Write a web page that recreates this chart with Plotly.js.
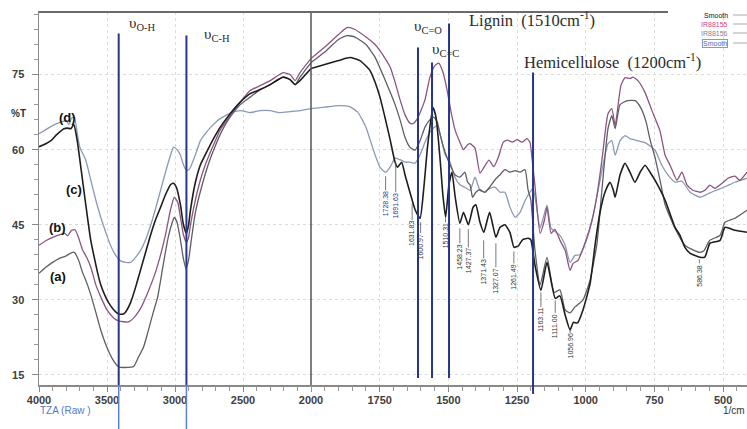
<!DOCTYPE html>
<html><head><meta charset="utf-8">
<script src="https://cdn.plot.ly/plotly-3.0.1.min.js"></script>
<style>html,body{margin:0;padding:0;background:#fff}#chart{width:747px;height:429px}</style>
</head><body><div id="chart"></div>
<script>
// ---- Data (wavenumber cm-1, %T) ----
const specD = [[4000,63.2],[3950,64],[3900,64.8],[3850,65.4],[3800,65.8],[3780,65],[3760,66.3],[3740,66.5],[3720,63.5],[3700,60.5],[3656,57.9],[3620,54],[3582,49.9],[3546,46.5],[3509,43.5],[3473,40.8],[3436,38.9],[3400,37.8],[3363,37.5],[3326,37.5],[3290,38.5],[3253,39.9],[3216,42],[3179,44.9],[3143,48.2],[3106,51.9],[3070,55.5],[3033,58.9],[3011,60.5],[2985,60],[2960,58.9],[2938,57],[2916,55.9],[2900,56],[2886,56.5],[2850,59],[2813,61.8],[2777,63.2],[2740,64.4],[2700,65.5],[2667,66.2],[2600,67.2],[2520,67.8],[2447,67.4],[2374,67.8],[2300,67.8],[2230,67.4],[2154,67.6],[2081,67.8],[2000,68.2],[1950,68.5],[1900,68.8],[1860,68.6],[1830,67.5],[1800,64.5],[1785,62],[1767,59],[1749,56.5],[1728,55.5],[1712,56.5],[1694,58.3],[1676,58],[1658,57.5],[1640,57.5],[1621,57.3],[1603,59],[1585,61.5],[1567,63.5],[1553,64.4],[1540,64.8],[1525,62],[1512,59],[1494,57.5],[1476,54.5],[1458,53],[1440,52.5],[1421,51.9],[1403,54.5],[1385,51.9],[1370,51.5],[1348,52.3],[1330,52.5],[1312,51.5],[1294,51.5],[1276,48.5],[1257,46.5],[1239,47.5],[1221,49.8],[1203,51.5],[1192,52.3],[1180,49],[1166,44.3],[1141,48.9],[1126,44.3],[1094,42.9],[1075,40.9],[1057,37.5],[1039,38.9],[1021,39],[995,42.3],[973,46.9],[955,51.9],[937,56.9],[919,61.2],[905,61.8],[893,58.9],[875,61.8],[857,62.8],[839,62.2],[812,61.8],[784,61.4],[748,59.9],[723,56.9],[700,54.9],[675,53.5],[650,53.7],[620,51.5],[584,50.5],[555,51.2],[530,51.8],[493,52.6],[457,53.5],[413,54.3]];

const specA = [[4000,35.3],[3950,36.5],[3900,37.5],[3850,38.3],[3800,38.8],[3770,39.3],[3740,39.5],[3710,38],[3680,35.5],[3650,33.5],[3619,31],[3582,27.5],[3546,24],[3500,20.5],[3451,17.8],[3414,16.6],[3370,16.5],[3304,16.7],[3270,18.5],[3231,20.6],[3200,23.5],[3160,27.5],[3128,30.5],[3090,36.5],[3050,42.5],[3020,45.5],[3005,46.5],[2985,45.5],[2960,42],[2940,38.5],[2920,36.3],[2900,38],[2880,42],[2850,47.5],[2800,53],[2750,57.5],[2700,61],[2650,64],[2600,66.3],[2520,69],[2447,70.5],[2374,72],[2300,73],[2205,74.5],[2154,74],[2117,73],[2081,74.5],[2000,77.4],[1950,79.5],[1900,82],[1869,82.8],[1840,82.5],[1800,81],[1767,78.5],[1731,74],[1712,71.5],[1694,69],[1676,66],[1658,62.5],[1640,60.5],[1621,59.9],[1603,61.8],[1585,64.5],[1567,66],[1553,66.5],[1540,65.5],[1530,63],[1512,59.5],[1494,57],[1476,55],[1458,54.5],[1440,55.5],[1430,53.5],[1421,53],[1412,50.5],[1400,51.5],[1385,52],[1367,51.5],[1350,52.5],[1330,54],[1312,55],[1294,56],[1276,55.5],[1257,55.8],[1239,55.5],[1221,56],[1210,52],[1200,50],[1185,40],[1166,33],[1141,38.5],[1115,31.5],[1094,32],[1075,28],[1057,27.4],[1039,28.6],[1010,30],[984,34],[959,41.3],[941,52],[919,64.2],[905,66.8],[893,64.2],[875,69],[848,69.8],[820,69.8],[800,68.4],[780,65.5],[766,62],[748,58.5],[730,54],[711,49],[675,44.3],[639,40.9],[602,39.8],[584,39.5],[570,39.8],[548,41.9],[511,42.9],[493,45.5],[457,46.3],[413,47.9]];

const specB = [[4000,40.9],[3950,41.8],[3900,42.5],[3850,43],[3810,43.3],[3790,42.8],[3760,43.9],[3735,44],[3710,42.5],[3680,40],[3650,38.5],[3619,36.5],[3582,33],[3546,30.6],[3500,28],[3451,26.4],[3414,25.8],[3341,25.6],[3300,26.5],[3253,28.3],[3200,31.5],[3150,35],[3106,39],[3070,43],[3033,48],[3005,50.5],[2980,49.5],[2960,46.5],[2938,43],[2916,41.5],[2900,42.5],[2886,45],[2850,50],[2813,54],[2777,57],[2740,59.5],[2700,62],[2667,64],[2600,66.5],[2520,69.5],[2447,71.8],[2374,72.8],[2300,73.8],[2205,75.4],[2154,75],[2117,73.8],[2081,75.4],[2000,78.2],[1950,80.5],[1900,83],[1869,84.4],[1840,84],[1800,82.5],[1767,81],[1749,79.8],[1731,78.3],[1712,76.5],[1694,73.5],[1676,70],[1658,67],[1640,65.3],[1629,65.2],[1615,66],[1600,67.8],[1585,70],[1567,74.5],[1549,76.8],[1535,77.3],[1520,75.5],[1505,72],[1490,67.5],[1476,64],[1458,61.5],[1445,60],[1430,61],[1421,61.2],[1403,60.3],[1385,55.3],[1370,56.5],[1352,57.9],[1335,56.6],[1318,58.5],[1300,61.5],[1285,61.9],[1267,61.5],[1250,62],[1232,61.5],[1214,62.2],[1203,61.5],[1195,58],[1185,52.9],[1166,43.3],[1150,46],[1141,48.5],[1126,43.3],[1112,44.1],[1094,41.9],[1075,39.9],[1057,35.9],[1046,37.3],[1028,37.9],[1003,41.3],[977,45.9],[959,50.9],[941,57.9],[919,67.2],[905,68.2],[893,64.8],[872,72.8],[857,74.4],[839,74.2],[828,74.5],[810,73.8],[784,71.4],[759,67.8],[730,63.8],[711,58.9],[693,56.9],[668,53.9],[650,55.5],[631,52.9],[610,51.9],[584,51.5],[566,51.9],[548,52.9],[530,52.3],[504,53.3],[482,54.3],[457,54.7],[439,53.9],[413,55.5]];

const specC = [[4000,60.6],[3950,61.2],[3912,61.8],[3870,63],[3817,64.2],[3790,64.3],[3766,64.2],[3744,65],[3720,62],[3690,56],[3656,49],[3620,42],[3582,37],[3568,35.3],[3546,33],[3509,30.5],[3473,28.8],[3436,27.6],[3414,27.2],[3380,27.2],[3363,27.6],[3326,29.5],[3290,32.5],[3253,36],[3216,39.5],[3179,43],[3143,46],[3106,48.5],[3070,51],[3033,53],[3011,53.3],[2990,52.5],[2960,49],[2938,45],[2916,43.3],[2900,45],[2886,48],[2850,53.5],[2813,57],[2777,59],[2740,61],[2700,63],[2667,64.5],[2600,67],[2520,69.5],[2447,71.2],[2374,72],[2300,73],[2205,74.5],[2154,74],[2117,73],[2081,73.8],[2000,76.2],[1950,77],[1900,77.8],[1858,78.4],[1822,77.8],[1785,75.8],[1767,73.5],[1749,70.5],[1731,66.5],[1712,62],[1694,57.5],[1685,56.5],[1670,57.5],[1658,55],[1640,51.5],[1621,48],[1603,46.3],[1590,52],[1575,61],[1556,68.4],[1545,66.5],[1530,58],[1520,51],[1510,46.5],[1498,53],[1487,55.5],[1475,50.5],[1458,45.3],[1445,47.5],[1427,45],[1410,48.5],[1400,49],[1385,45.5],[1371,43.5],[1350,47.5],[1327,42.5],[1312,44.5],[1294,45],[1276,43.5],[1261,40.5],[1245,40.8],[1230,42],[1210,42.3],[1200,42],[1185,37],[1163,31.9],[1141,37.5],[1111,30.3],[1094,30.8],[1075,27],[1057,24],[1045,25.5],[1030,25.4],[1010,28],[984,33.3],[966,41],[948,47.5],[930,51.5],[912,53.5],[900,52],[893,50.5],[875,55],[857,57.3],[839,55.5],[821,53.5],[802,55.5],[784,56.9],[766,55.5],[748,53.9],[711,49.9],[675,44.5],[657,42.9],[639,40.5],[620,39.3],[584,38.5],[566,38.6],[548,41.3],[511,41.9],[493,44.5],[457,43.9],[413,43.5]];

const seriesNames = ['Smooth', 'IR88156', 'IR88155', 'Smooth'];
const seriesColors = ['#8a9ab4', '#5f5d66', '#8a5580', '#1e1e1e'];
const seriesData = [specD, specA, specB, specC];

// peak labels
const peakWn = [1728.38, 1691.63, 1631.83, 1600.97, 1510.31, 1458.23, 1427.37, 1371.43, 1327.07, 1261.49, 1163.11, 1111.00, 1056.96, 586.38];
const peakLineTop = [54.7, 57.5, 49.3, 45.5, 46.3, 44.3, 44.1, 41.9, 41.3, 39.7, 31.5, 29.9, 24.2, 38.1];
const peakTextTop = [51.9, 51.5, 45.9, 43.3, 45.5, 41.3, 40.5, 38.3, 36.5, 37.3, 28.6, 27.4, 23.4, 37.3];

// band marker lines
const bandWn = [3414, 2916, 1610.5, 1559.5, 1497.6, 1191.8];
const bandTop = [83.2, 82.8, 80.4, 77.4, 85.2, 75.4];

// legend
const legendText = ['Smooth', 'IR88155', 'IR88156', 'Smooth'];
const legendColor = ['#111', '#d6457f', '#8b7e95', '#4a68c2'];

// ---- Layout geometry ----
const W = 747, H = 429, ML = 39, MR = 0, MT = 12, MB = 44;
const plotW = W - ML - MR, plotH = H - MT - MB;
const splitFrac = 272 / plotW;
const rightEnd = 413;

function part(spec, left) {
  const pts = spec.filter(p => left ? p[0] >= 2000 : p[0] <= 2000);
  return {x: pts.map(p => p[0]), y: pts.map(p => p[1])};
}

const traces = [];
seriesData.forEach((spec, k) => {
  ['x', 'x2'].forEach((xa, i) => {
    const d = part(spec, i === 0);
    traces.push({
      type: 'scatter', mode: 'lines', x: d.x, y: d.y, xaxis: xa, yaxis: 'y',
      name: seriesNames[k], showlegend: false, hoverinfo: 'skip',
      line: {color: seriesColors[k], width: k === 3 ? 1.6 : 1.3, shape: 'spline', smoothing: 0.5}
    });
  });
});

const tickFont = {family: 'Arial, Liberation Sans, sans-serif', size: 11, color: '#404040', weight: 'bold'};
const commonAx = {
  ticks: 'outside', ticklen: 5, tickcolor: '#888', tickwidth: 1,
  showline: true, linecolor: '#8a8a8a', linewidth: 1.5,
  showgrid: true, gridcolor: '#dcdcdc', griddash: 'dot', gridwidth: 1,
  zeroline: false, tickfont: tickFont, fixedrange: true
};

const shapes = [];
const annotations = [];

// scale-break separator at 2000
shapes.push({type: 'line', xref: 'paper', yref: 'paper', x0: splitFrac, x1: splitFrac, y0: 0, y1: 1, line: {color: '#555', width: 1.5}});
// top frame
shapes.push({type: 'line', xref: 'paper', yref: 'paper', x0: -0.001, x1: (668 - ML) / plotW, y0: 1, y1: 1, line: {color: '#6a6a6a', width: 2}});

// band lines
bandWn.forEach((w, i) => {
  const ax = w >= 2000 ? 'x' : 'x2';
  shapes.push({type: 'line', xref: ax, yref: 'y', x0: w, x1: w, y0: (i < 2 || i === 5) ? 13 : 14.4, y1: bandTop[i], line: {color: '#27358a', width: 2}});
  if (i < 2) {
    shapes.push({type: 'line', xref: ax, yref: 'paper', x0: w, x1: w, y0: -MB / plotH, y1: 0, line: {color: '#5b80d8', width: 1.5}});
  }
  if (i === 5) {
    shapes.push({type: 'line', xref: ax, yref: 'paper', x0: w, x1: w, y0: -9 / plotH, y1: 0, line: {color: '#27358a', width: 2}});
  }
});

// peak labels
peakWn.forEach((w, i) => {
  shapes.push({type: 'line', xref: 'x2', yref: 'y', x0: w, x1: w, y0: peakTextTop[i], y1: peakLineTop[i], line: {color: '#555', width: 0.8}});
  annotations.push({xref: 'x2', yref: 'y', x: w, y: peakTextTop[i], text: w.toFixed(2), textangle: -90,
    xanchor: 'center', yanchor: 'top', showarrow: false, borderpad: 0,
    font: {family: 'Arial, Liberation Sans, sans-serif', size: 7, color: i < 2 ? '#27358a' : '#333'}});
});

// curve labels
const serif = 'Liberation Serif, Times New Roman, serif';
const curveLbl = [['(d)', 3788, 66.4], ['(c)', 3744, 52.1], ['(b)', 3861, 44.5], ['(a)', 3861, 34.7]];
curveLbl.forEach(c => annotations.push({xref: 'x', yref: 'y', x: c[1], y: c[2], text: '<b>' + c[0] + '</b>', showarrow: false,
  font: {family: 'Arial, Liberation Sans, sans-serif', size: 13, color: '#111'}}));

// vibration labels
const vib = [['υ<sub>O-H</sub>', 'x', 3238, 85.2], ['υ<sub>C-H</sub>', 'x', 2689, 83.0], ['υ<sub>C=O</sub>', 'x2', 1574, 84.6], ['υ<sub>C=C</sub>', 'x2', 1512, 80.0]];
vib.forEach(v => annotations.push({xref: v[1], yref: 'y', x: v[2], y: v[3], text: v[0], showarrow: false,
  font: {family: serif, size: 15, color: '#2b2b2b'}}));
annotations.push({xref: 'x2', yref: 'y', x: 1195, y: 86.0, text: 'Lignin  (1510cm<sup>-1</sup>)', showarrow: false, font: {family: serif, size: 16.5, color: '#2b2b2b'}});
annotations.push({xref: 'x2', yref: 'y', x: 901, y: 77.6, text: 'Hemicellulose  (1200cm<sup>-1</sup>)', showarrow: false, font: {family: serif, size: 16.5, color: '#2b2b2b'}});

// axis texts
annotations.push({xref: 'paper', yref: 'y', x: (9 - ML) / plotW, xanchor: 'left', y: 67.3, text: '<b>%T</b>', showarrow: false, font: {family: 'Arial, Liberation Sans, sans-serif', size: 10, color: '#333'}});
annotations.push({xref: 'paper', yref: 'paper', x: -0.001, y: (385 - 418) / plotH, xanchor: 'left', text: 'TZA (Raw )', showarrow: false, font: {family: 'Arial, Liberation Sans, sans-serif', size: 10, color: '#5a78c8'}});
annotations.push({xref: 'paper', yref: 'paper', x: 1, y: (385 - 418) / plotH, xanchor: 'right', text: '1/cm', showarrow: false, font: {family: 'Arial, Liberation Sans, sans-serif', size: 10, color: '#333'}});

// legend (drawn)
const legY = [15, 24, 33, 43];
legendText.forEach((t, i) => {
  const yy = (385 - legY[i]) / plotH;
  annotations.push({xref: 'paper', yref: 'paper', x: (728 - ML) / plotW, y: yy, xanchor: 'right', yanchor: 'middle', text: t, showarrow: false,
    borderpad: 0, bordercolor: i === 3 ? '#7f98d8' : 'rgba(0,0,0,0)', borderwidth: i === 3 ? 1 : 0,
    font: {family: 'Arial, Liberation Sans, sans-serif', size: 7, color: legendColor[i]}});
  shapes.push({type: 'line', xref: 'paper', yref: 'paper', x0: (733 - ML) / plotW, x1: 1, y0: yy, y1: yy, line: {color: '#aaa', width: 1}});
});

const layout = {
  width: W, height: H, margin: {l: ML, r: MR, t: MT, b: MB, pad: 0},
  paper_bgcolor: '#fff', plot_bgcolor: '#fff', showlegend: false,
  font: {family: 'Arial, Liberation Sans, sans-serif', color: '#333'},
  xaxis: Object.assign({}, commonAx, {domain: [0, splitFrac], range: [4000, 2000], anchor: 'y',
    tickmode: 'array', tickvals: [4000, 3500, 3000, 2500, 2000], ticklabelstandoff: -1,
    minor: {tickmode: 'linear', tick0: 0, dtick: 100, ticks: 'outside', ticklen: 4, tickcolor: '#999', showgrid: false}}),
  xaxis2: Object.assign({}, commonAx, {domain: [splitFrac, 1], range: [2000, rightEnd], anchor: 'y',
    tickmode: 'array', tickvals: [1750, 1500, 1250, 1000, 750, 500], ticklabelstandoff: -1,
    minor: {tickmode: 'linear', tick0: 0, dtick: 50, ticks: 'outside', ticklen: 4, tickcolor: '#999', showgrid: false}}),
  yaxis: Object.assign({}, commonAx, {range: [13, 87.5], anchor: 'x', tickmode: 'linear', tick0: 0, dtick: 15, ticklabelstandoff: 5, ticklen: 6,
    minor: {tickmode: 'linear', tick0: 0, dtick: 3, ticks: 'outside', ticklen: 4, tickcolor: '#999', showgrid: false}}),
  shapes: shapes, annotations: annotations
};

Plotly.newPlot('chart', traces, layout, {staticPlot: true, displayModeBar: false});
</script>
</body></html>
